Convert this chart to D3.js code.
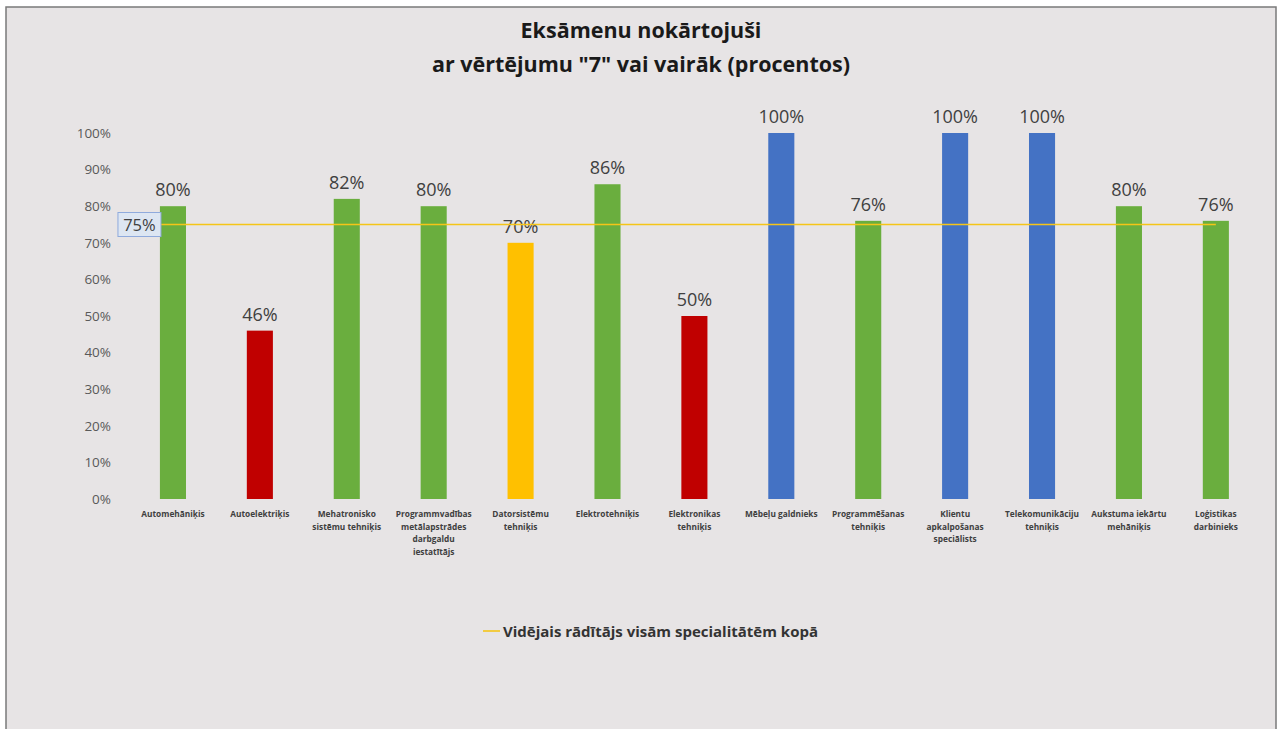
<!DOCTYPE html>
<html>
<head>
<meta charset="utf-8">
<script src="https://cdn.jsdelivr.net/npm/d3@7"></script>
<style>
  html, body { margin: 0; padding: 0; background: #ffffff; }
  svg { display: block; }
</style>
</head>
<body>
<svg id="chart" width="1284" height="729"></svg>
<script>
const categories = [
  "Automehāniķis",
  "Autoelektriķis",
  "Mehatronisko\nsistēmu tehniķis",
  "Programmvadības\nmetālapstrādes\ndarbgaldu\niestatītājs",
  "Datorsistēmu\ntehniķis",
  "Elektrotehniķis",
  "Elektronikas\ntehniķis",
  "Mēbeļu galdnieks",
  "Programmēšanas\ntehniķis",
  "Klientu\napkalpošanas\nspeciālists",
  "Telekomunikāciju\ntehniķis",
  "Aukstuma iekārtu\nmehāniķis",
  "Loģistikas\ndarbinieks"
];
const values = [80, 46, 82, 80, 70, 86, 50, 100, 76, 100, 100, 80, 76];
const groups = ["g", "r", "g", "g", "y", "g", "r", "b", "g", "b", "b", "g", "g"];
const averageValue = 75;
const yTicks = [0, 10, 20, 30, 40, 50, 60, 70, 80, 90, 100];
const titleLines = ["Eksāmenu nokārtojuši", "ar vērtējumu \"7\" vai vairāk (procentos)"];
const legendLabel = "Vidējais rādītājs visām specialitātēm kopā";

const colorMap = { g: "#6aae3e", r: "#c00000", y: "#ffc000", b: "#4472c4" };
const font = "'Open Sans', 'Liberation Sans', sans-serif";

const svg = d3.select("#chart");

// frame
svg.append("rect").attr("x", 6).attr("y", 7).attr("width", 1270).attr("height", 730)
  .attr("fill", "#e7e4e5").attr("stroke", "#7a7a7a").attr("stroke-width", 1.5);

const x = d3.scaleBand().domain(categories).range([129.5, 1259.3])
  .paddingInner(0.7).paddingOuter(0.35);
const y = d3.scaleLinear().domain([0, 100]).range([499, 133]);

// title
svg.append("g").selectAll("text").data(titleLines).join("text")
  .attr("x", 641).attr("y", (d, i) => 38 + i * 34)
  .attr("text-anchor", "middle")
  .attr("font-family", font).attr("font-weight", "bold").attr("font-size", 21.5)
  .attr("fill", "#1a1a1a").text(d => d);

// y axis
const yAxis = svg.append("g").attr("transform", "translate(111,0)")
  .call(d3.axisLeft(y).tickValues(yTicks).tickFormat(d => d + "%").tickSize(0).tickPadding(0));
yAxis.select(".domain").remove();
yAxis.selectAll("text").attr("font-family", font).attr("font-size", 13.5).attr("fill", "#595959");

// bars
svg.append("g").selectAll("rect").data(values).join("rect")
  .attr("x", (d, i) => x(categories[i]))
  .attr("width", x.bandwidth())
  .attr("y", d => y(d))
  .attr("height", d => y(0) - y(d))
  .attr("fill", (d, i) => colorMap[groups[i]]);

// value labels
svg.append("g").selectAll("text").data(values).join("text")
  .attr("x", (d, i) => x(categories[i]) + x.bandwidth() / 2)
  .attr("y", d => y(d) - 10)
  .attr("text-anchor", "middle")
  .attr("font-family", font).attr("font-size", 18).attr("fill", "#404040")
  .text(d => d + "%");

// average line
const first = x(categories[0]) + x.bandwidth() / 2;
const last = x(categories[categories.length - 1]) + x.bandwidth() / 2;
svg.append("line")
  .attr("x1", first - 40).attr("x2", last)
  .attr("y1", y(averageValue)).attr("y2", y(averageValue))
  .attr("stroke", "#f5c518").attr("stroke-width", 1.6);

// average label box
const avgG = svg.append("g");
avgG.append("rect").attr("x", first - 55).attr("y", y(averageValue) - 12)
  .attr("width", 43).attr("height", 24)
  .attr("fill", "#dde6f2").attr("stroke", "#8faadc").attr("stroke-width", 1);
avgG.append("text").attr("x", first - 33.5).attr("y", y(averageValue) + 6)
  .attr("text-anchor", "middle").attr("font-family", font).attr("font-size", 16.5)
  .attr("fill", "#404040").text(averageValue + "%");

// x axis labels
const xl = svg.append("g").selectAll("text").data(categories).join("text")
  .attr("x", d => x(d) + x.bandwidth() / 2)
  .attr("y", 517)
  .attr("text-anchor", "middle")
  .attr("font-family", font).attr("font-size", 8.3).attr("font-weight", "bold")
  .attr("fill", "#404040");
xl.each(function(d) {
  const t = d3.select(this);
  d.split("\n").forEach((line, i) => {
    t.append("tspan").attr("x", x(d) + x.bandwidth() / 2)
      .attr("dy", i === 0 ? 0 : 12.5).text(line);
  });
});

// legend
svg.append("line").attr("x1", 483).attr("x2", 500).attr("y1", 631).attr("y2", 631)
  .attr("stroke", "#f5c518").attr("stroke-width", 1.6);
svg.append("text").attr("x", 503).attr("y", 636.5)
  .attr("font-family", font).attr("font-weight", "bold").attr("font-size", 15)
  .attr("fill", "#333").text(legendLabel);
</script>
</body>
</html>
